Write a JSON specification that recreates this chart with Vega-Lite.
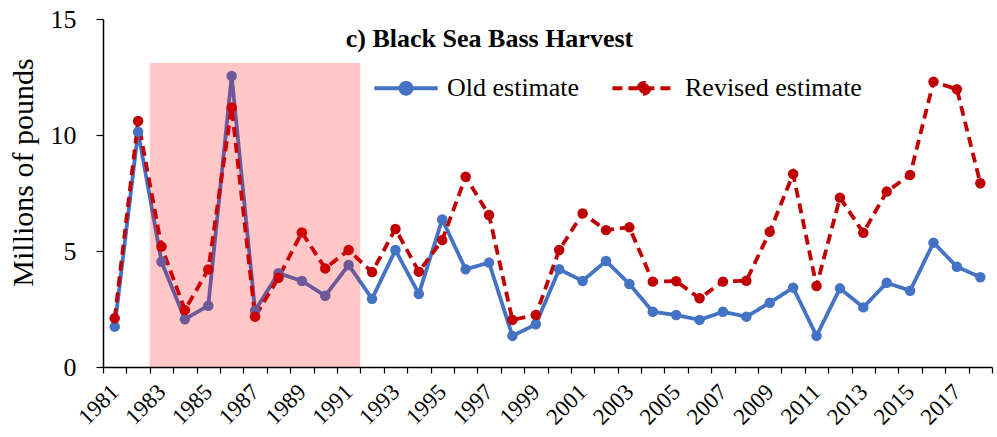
{
  "$schema": "https://vega.github.io/schema/vega-lite/v6.json",
  "width": 889,
  "height": 348,
  "autosize": {"type": "none"},
  "padding": {"left": 103, "top": 19, "right": 5, "bottom": 70},
  "background": "white",
  "config": {
    "font": "Liberation Serif",
    "view": {"stroke": null},
    "axis": {"grid": false, "domainColor": "black", "tickColor": "black", "labelColor": "black", "titleColor": "black", "domainWidth": 1.5, "tickWidth": 1.2}
  },
  "title": {
    "text": "c) Black Sea Bass Harvest",
    "font": "Liberation Serif",
    "fontSize": 26,
    "fontWeight": "bold",
    "color": "black",
    "anchor": "middle",
    "dx": -58,
    "offset": -59,
    "baseline": "middle"
  },
  "datasets": {
    "harvest": [
      {"year": 1981, "Old estimate": 1.74, "Revised estimate": 2.1},
      {"year": 1982, "Old estimate": 10.14, "Revised estimate": 10.6},
      {"year": 1983, "Old estimate": 4.54, "Revised estimate": 5.19},
      {"year": 1984, "Old estimate": 2.06, "Revised estimate": 2.46},
      {"year": 1985, "Old estimate": 2.64, "Revised estimate": 4.2},
      {"year": 1986, "Old estimate": 12.54, "Revised estimate": 11.19},
      {"year": 1987, "Old estimate": 2.43, "Revised estimate": 2.17},
      {"year": 1988, "Old estimate": 4.04, "Revised estimate": 3.85},
      {"year": 1989, "Old estimate": 3.71, "Revised estimate": 5.8},
      {"year": 1990, "Old estimate": 3.07, "Revised estimate": 4.25},
      {"year": 1991, "Old estimate": 4.4, "Revised estimate": 5.04},
      {"year": 1992, "Old estimate": 2.94, "Revised estimate": 4.09},
      {"year": 1993, "Old estimate": 5.04, "Revised estimate": 5.95},
      {"year": 1994, "Old estimate": 3.15, "Revised estimate": 4.11},
      {"year": 1995, "Old estimate": 6.36, "Revised estimate": 5.47},
      {"year": 1996, "Old estimate": 4.21, "Revised estimate": 8.2},
      {"year": 1997, "Old estimate": 4.5, "Revised estimate": 6.55},
      {"year": 1998, "Old estimate": 1.34, "Revised estimate": 2.03},
      {"year": 1999, "Old estimate": 1.84, "Revised estimate": 2.24},
      {"year": 2000, "Old estimate": 4.21, "Revised estimate": 5.04},
      {"year": 2001, "Old estimate": 3.71, "Revised estimate": 6.62},
      {"year": 2002, "Old estimate": 4.57, "Revised estimate": 5.9},
      {"year": 2003, "Old estimate": 3.58, "Revised estimate": 6.02},
      {"year": 2004, "Old estimate": 2.38, "Revised estimate": 3.68},
      {"year": 2005, "Old estimate": 2.24, "Revised estimate": 3.7},
      {"year": 2006, "Old estimate": 2.03, "Revised estimate": 2.96},
      {"year": 2007, "Old estimate": 2.38, "Revised estimate": 3.68},
      {"year": 2008, "Old estimate": 2.17, "Revised estimate": 3.72},
      {"year": 2009, "Old estimate": 2.77, "Revised estimate": 5.83},
      {"year": 2010, "Old estimate": 3.42, "Revised estimate": 8.32},
      {"year": 2011, "Old estimate": 1.34, "Revised estimate": 3.49},
      {"year": 2012, "Old estimate": 3.39, "Revised estimate": 7.3},
      {"year": 2013, "Old estimate": 2.57, "Revised estimate": 5.79},
      {"year": 2014, "Old estimate": 3.63, "Revised estimate": 7.56},
      {"year": 2015, "Old estimate": 3.29, "Revised estimate": 8.28},
      {"year": 2016, "Old estimate": 5.36, "Revised estimate": 12.3},
      {"year": 2017, "Old estimate": 4.32, "Revised estimate": 11.97},
      {"year": 2018, "Old estimate": 3.87, "Revised estimate": 7.92}
    ],
    "shade": [
      {"year": 1983, "top": 13.1},
      {"year": 1984, "top": 13.1},
      {"year": 1985, "top": 13.1},
      {"year": 1986, "top": 13.1},
      {"year": 1987, "top": 13.1},
      {"year": 1988, "top": 13.1},
      {"year": 1989, "top": 13.1},
      {"year": 1990, "top": 13.1},
      {"year": 1991, "top": 13.1}
    ]
  },
  "layer": [
    {
      "data": {"name": "harvest"},
      "transform": [{"fold": ["Old estimate", "Revised estimate"], "as": ["series", "value"]}],
      "mark": {"type": "line", "strokeWidth": 3.8},
      "encoding": {
        "x": {
          "field": "year",
          "type": "ordinal",
          "scale": {"type": "band", "paddingInner": 0, "paddingOuter": 0},
          "axis": {
            "title": null,
            "ticks": true,
            "tickBand": "extent",
            "labelAngle": -45,
            "labelAlign": "right",
            "labelBaseline": "middle",
            "labelFontSize": 23,
            "labelPadding": 15,
            "tickSize": 6,
            "labelExpr": "datum.value % 2 == 1 ? datum.label : ''"
          }
        },
        "y": {
          "field": "value",
          "type": "quantitative",
          "scale": {"domain": [0, 15], "nice": false},
          "axis": {"values": [0, 5, 10, 15], "title": "Millions of pounds", "titleFontSize": 30, "titleFontWeight": "normal", "titleY": 153, "labelFontSize": 26, "tickSize": 7, "labelPadding": 20, "titlePadding": 12}
        },
        "color": {
          "field": "series",
          "type": "nominal",
          "scale": {"domain": ["Old estimate", "Revised estimate"], "range": ["#4472C4", "#C00000"]},
          "legend": {
            "title": null,
            "orient": "none",
            "legendX": 269,
            "legendY": 35,
            "direction": "horizontal",
            "symbolType": "M-1,0L1,0M-0.17,0A0.17,0.17,0,1,1,0.17,0A0.17,0.17,0,1,1,-0.17,0Z",
            "symbolSize": 4000,
            "symbolStrokeWidth": 4,
            "labelFontSize": 26,
            "labelLimit": 0,
            "labelColor": "black",
            "labelOffset": 7,
            "columnPadding": 24
          }
        },
        "strokeDash": {
          "field": "series",
          "type": "nominal",
          "scale": {"domain": ["Old estimate", "Revised estimate"], "range": [[1, 0], [10, 6]]},
          "legend": null
        }
      }
    },
    {
      "data": {"name": "harvest"},
      "transform": [{"fold": ["Old estimate", "Revised estimate"], "as": ["series", "value"]}],
      "mark": {"type": "circle", "size": 110, "opacity": 1},
      "encoding": {
        "x": {"field": "year", "type": "ordinal"},
        "y": {"field": "value", "type": "quantitative"},
        "color": {"field": "series", "type": "nominal"}
      }
    },
    {
      "data": {"name": "shade"},
      "mark": {"type": "rect", "color": "#FF0000", "opacity": 0.22},
      "encoding": {
        "x": {"field": "year", "type": "ordinal"},
        "y": {"field": "top", "type": "quantitative"},
        "y2": {"datum": 0}
      }
    }
  ]
}
